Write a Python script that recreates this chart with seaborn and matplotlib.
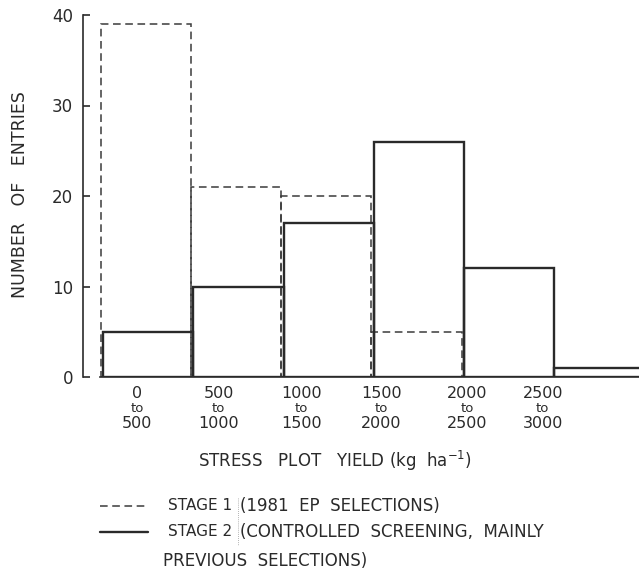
import numpy as np
import pandas as pd
import matplotlib
matplotlib.use("Agg")
import matplotlib.pyplot as plt
import seaborn as sns
from matplotlib.lines import Line2D
from matplotlib.transforms import blended_transform_factory

# Yield classes (kg/ha) and number of entries per class
bin_edges = [0, 500, 1000, 1500, 2000, 2500, 3000]
stage1_counts = [39, 21, 20, 5, 0, 0]
stage2_counts = [5, 10, 17, 26, 12, 1]
range_low = ["0", "500", "1000", "1500", "2000", "2500"]
range_high = ["500", "1000", "1500", "2000", "2500", "3000"]
y_ticks = [0, 10, 20, 30, 40]

sns.set_theme(style="white")
plt.rcParams["font.family"] = ["DejaVu Sans"]
ink = "#2a2a2a"

fig = plt.figure(figsize=(6.39, 5.71), dpi=100)
ax = fig.add_axes([100 / 639, 194 / 571, 539 / 639, 362 / 571])

edges = np.array(bin_edges, dtype=float)
mids = (edges[:-1] + edges[1:]) / 2
# Stage 1 outlines are set a hair to the left so shared edges stay visible
shift = -14
frame = pd.DataFrame({"mid": mids, "mid1": mids + shift,
                      "s1": stage1_counts, "s2": stage2_counts})

sns.histplot(data=frame, x="mid1", weights="s1", bins=list(edges + shift),
             element="bars", fill=False, color="#3a3a3a", linewidth=1.1,
             linestyle=(0, (5, 3)), ax=ax)
sns.histplot(data=frame, x="mid", weights="s2", bins=list(edges),
             element="bars", fill=False, color=ink, linewidth=1.7, ax=ax)

ax.set_xlim(-17, 2968)
ax.set_ylim(0, 40)
for side in ("top", "right"):
    ax.spines[side].set_visible(False)
ax.spines["left"].set_position(("outward", 12))
ax.spines["left"].set_color(ink)
ax.spines["bottom"].set_color(ink)
ax.spines["left"].set_linewidth(1.2)
ax.spines["bottom"].set_linewidth(1.2)
ax.set_yticks(y_ticks)
ax.tick_params(axis="y", direction="in", length=5, width=1.2, colors=ink,
               labelsize=12, pad=7.5, left=True)
ax.set_xticks([])
ax.set_xlabel("")
ax.set_ylabel("")

# Class labels under the axis: "low / to / high"
label_x = [190, 640, 1100, 1540, 2015, 2435]
tr = blended_transform_factory(ax.transData, fig.transFigure)
for xp, lo, hi in zip(label_x, range_low, range_high):
    ax.text(xp, 1 - 394 / 571, lo, transform=tr, ha="center", va="center",
            fontsize=11.5, color=ink, clip_on=False)
    ax.text(xp, 1 - 408 / 571, "to", transform=tr, ha="center", va="center",
            fontsize=9.5, color=ink, clip_on=False)
    ax.text(xp, 1 - 424 / 571, hi, transform=tr, ha="center", va="center",
            fontsize=11.5, color=ink, clip_on=False)

fig.text(335 / 639, 1 - 461 / 571, "STRESS   PLOT   YIELD (kg  ha$^{-1}$)",
         ha="center", va="center", fontsize=12, color=ink)
fig.text(20 / 639, 1 - 195 / 571, "NUMBER   OF   ENTRIES", rotation=90,
         ha="center", va="center", fontsize=12.5, color=ink)

# Key
fig.add_artist(Line2D([100 / 639, 148 / 639], [1 - 506 / 571] * 2,
                      transform=fig.transFigure, color="#3a3a3a", lw=1.1,
                      linestyle=(0, (5, 3))))
fig.add_artist(Line2D([100 / 639, 148 / 639], [1 - 532 / 571] * 2,
                      transform=fig.transFigure, color=ink, lw=1.7))
fig.add_artist(Line2D([238 / 639, 238 / 639], [1 - 498 / 571, 1 - 545 / 571],
                      transform=fig.transFigure, color="#9a9a9a", lw=0.6,
                      linestyle=(0, (1, 1.5))))
key_size = 12
fig.text(168 / 639, 1 - 506 / 571, "STAGE 1", ha="left", va="center",
         fontsize=11, color=ink)
fig.text(240 / 639, 1 - 506 / 571, "(1981  EP  SELECTIONS)", ha="left",
         va="center", fontsize=key_size, color=ink)
fig.text(168 / 639, 1 - 532 / 571, "STAGE 2", ha="left", va="center",
         fontsize=11, color=ink)
fig.text(240 / 639, 1 - 532 / 571, "(CONTROLLED  SCREENING,  MAINLY",
         ha="left", va="center", fontsize=key_size, color=ink)
fig.text(163 / 639, 1 - 561 / 571, "PREVIOUS  SELECTIONS)", ha="left",
         va="center", fontsize=key_size, color=ink)

fig.savefig("out.png", dpi=100, facecolor="white")
